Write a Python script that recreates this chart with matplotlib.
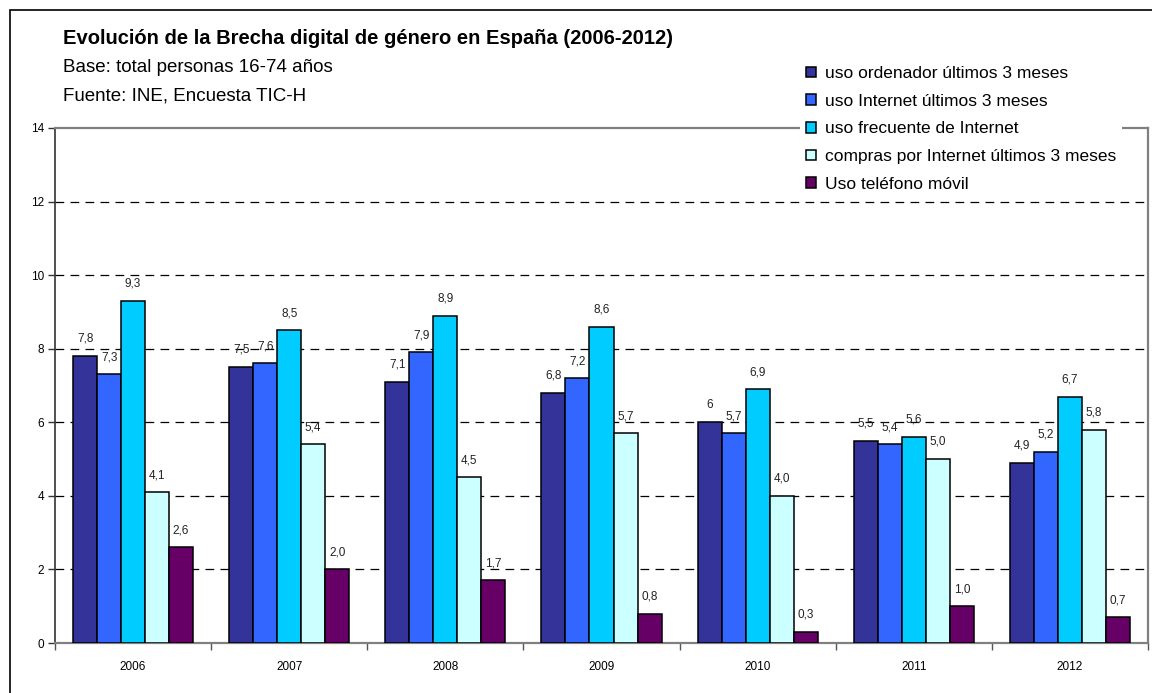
import matplotlib
matplotlib.use("Agg")
import numpy as np
import matplotlib.pyplot as plt
from matplotlib.patches import Rectangle

plt.rcParams["font.family"] = ["Liberation Sans", "DejaVu Sans"]

# ---- data -------------------------------------------------------------
years = ["2006", "2007", "2008", "2009", "2010", "2011", "2012"]
series_names = [
    "uso ordenador últimos 3 meses",
    "uso Internet últimos 3 meses",
    "uso frecuente de Internet",
    "compras por Internet últimos 3 meses",
    "Uso teléfono móvil",
]
ordenador = [7.8, 7.5, 7.1, 6.8, 6.0, 5.5, 4.9]
internet = [7.3, 7.6, 7.9, 7.2, 5.7, 5.4, 5.2]
frecuente = [9.3, 8.5, 8.9, 8.6, 6.9, 5.6, 6.7]
compras = [4.1, 5.4, 4.5, 5.7, 4.0, 5.0, 5.8]
movil = [2.6, 2.0, 1.7, 0.8, 0.3, 1.0, 0.7]

ordenador_lbl = ["7,8", "7,5", "7,1", "6,8", "6", "5,5", "4,9"]
internet_lbl = ["7,3", "7,6", "7,9", "7,2", "5,7", "5,4", "5,2"]
frecuente_lbl = ["9,3", "8,5", "8,9", "8,6", "6,9", "5,6", "6,7"]
compras_lbl = ["4,1", "5,4", "4,5", "5,7", "4,0", "5,0", "5,8"]
movil_lbl = ["2,6", "2,0", "1,7", "0,8", "0,3", "1,0", "0,7"]

# ---- style ------------------------------------------------------------
COLORS = ["#333399", "#3366FF", "#00CCFF", "#CCFFFF", "#660066"]
W, H = 1152, 693

fig = plt.figure(figsize=(W / 100, H / 100), dpi=100)
ax = fig.add_axes([55 / W, 1 - 643 / H, (1148 - 55) / W, (643 - 128) / H])

x = np.arange(len(years))
bw = 24 / 156.1
values = [ordenador, internet, frecuente, compras, movil]
labels = [ordenador_lbl, internet_lbl, frecuente_lbl, compras_lbl, movil_lbl]

for i, (vals, lbls) in enumerate(zip(values, labels)):
    pos = x + (i - 2) * bw
    bars = ax.bar(pos, vals, width=bw, color=COLORS[i], edgecolor="black",
                  linewidth=1.1, label=series_names[i], zorder=3)
    for b, s in zip(bars, lbls):
        ax.annotate(s, (b.get_x() + b.get_width() / 2, b.get_height()),
                    xytext=(0, 8), textcoords="offset points",
                    ha="center", va="bottom", fontsize=8.5, color="#222222",
                    zorder=4)

ax.set_xlim(-0.5, len(years) - 0.5)
ax.set_ylim(0, 14)
ax.set_yticks(range(0, 15, 2))
ax.tick_params(axis="y", labelsize=8.5, length=5, width=1, color="#333333",
               pad=3)

# x: tick marks at category boundaries, labels at centres
ax.set_xticks(np.arange(-0.5, len(years), 1.0))
ax.set_xticklabels([])
ax.set_xticks(x, minor=True)
ax.set_xticklabels(years, minor=True)
ax.tick_params(axis="x", which="major", length=5, width=1, color="#555555")
ax.tick_params(axis="x", which="minor", length=0, labelsize=8.5, pad=13)

for yv in range(2, 14, 2):
    ax.axhline(yv, color="black", lw=0.9, ls=(0, (7, 5)), zorder=1)

ax.spines["left"].set_color("#333333")
ax.spines["left"].set_linewidth(1.2)
for sp in ("top", "right", "bottom"):
    ax.spines[sp].set_color("#808080")
    ax.spines[sp].set_linewidth(1.6)

# ---- legend -----------------------------------------------------------
leg = ax.legend(loc="upper left", bbox_to_anchor=(800 / W, 1 - 60 / H),
                bbox_transform=fig.transFigure, frameon=True, fancybox=False,
                facecolor="white", edgecolor="none", framealpha=1,
                fontsize=12.5, handlelength=0.55, handleheight=0.55,
                handletextpad=0.52, labelspacing=0.73, borderpad=0.35,
                borderaxespad=0)
leg.set_zorder(10)

# ---- titles ----------------------------------------------------------
fig.text(63 / W, 1 - 39 / H, "Evolución de la Brecha digital de género en España (2006-2012)",
         fontsize=14.5, fontweight="bold", ha="left", va="center")
fig.text(63 / W, 1 - 68 / H, "Base: total personas 16-74 años",
         fontsize=13.5, ha="left", va="center")
fig.text(63 / W, 1 - 96 / H, "Fuente: INE, Encuesta TIC-H",
         fontsize=13.5, ha="left", va="center")

# outer frame
fig.add_artist(Rectangle((10 / W, -0.1), 1.2, 1.1 - 10 / H,
                         transform=fig.transFigure, fill=False,
                         edgecolor="black", lw=1.2))

fig.savefig("out.png", dpi=100, facecolor="white")
